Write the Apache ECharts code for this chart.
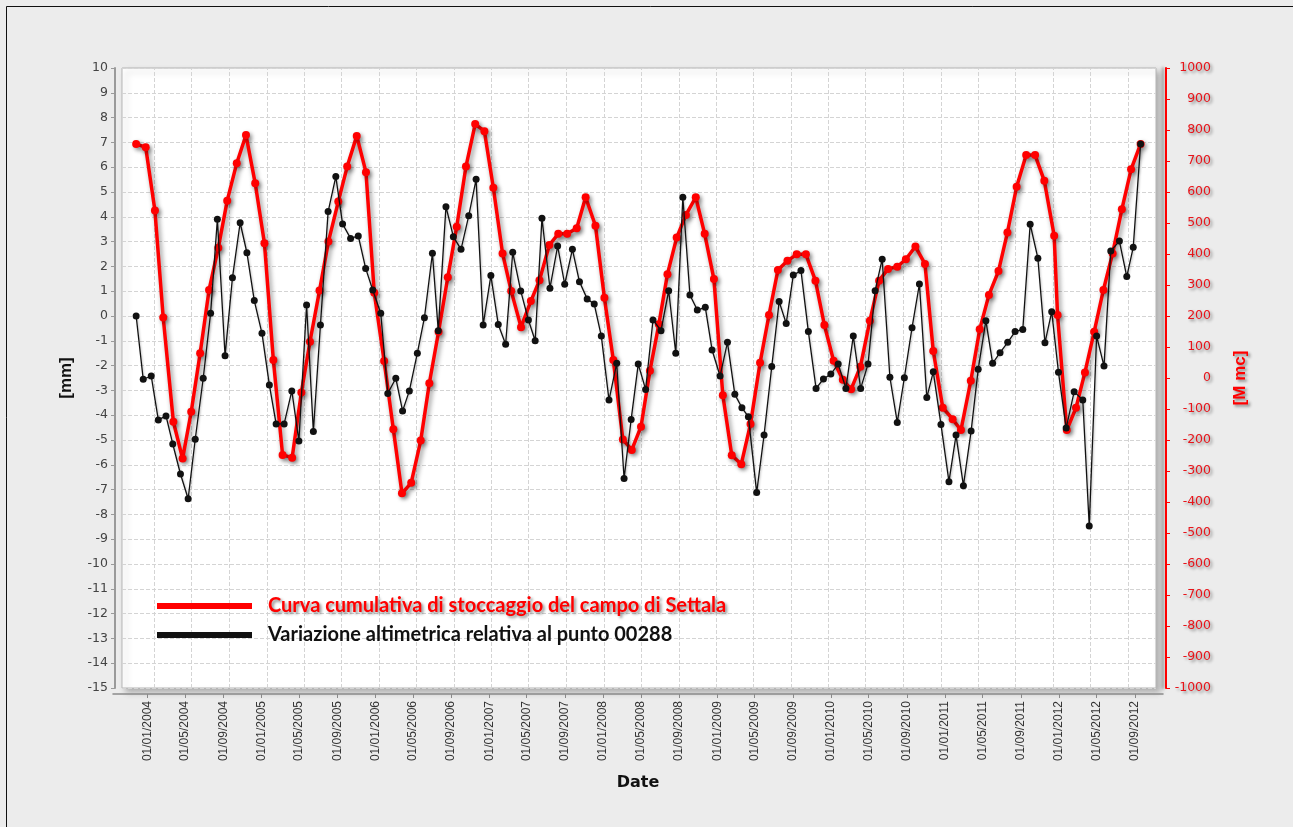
<!DOCTYPE html>
<html><head><meta charset="utf-8">
<script src="https://cdn.jsdelivr.net/npm/echarts@6/dist/echarts.min.js"></script>
<style>html,body{margin:0;padding:0;background:#ececec;}#c{width:1293px;height:827px;}</style>
</head><body><div id="c"></div>
<script>
// x values: days after 01/01/2004
const redName = 'Curva cumulativa di stoccaggio del campo di Settala';
const blackName = 'Variazione altimetrica relativa al punto 00288';

const redDays = [-59,-28,2,29,62,92,120,149,178,208,237,268,298,328,358,387,417,448,478,506,537,566,598,627,658,688,715,747,777,805,835,866,894,924,954,983,1013,1043,1073,1102,1132,1160,1192,1224,1252,1284,1313,1342,1373,1402,1434,1463,1492,1523,1552,1582,1611,1640,1668,1698,1728,1760,1789,1819,1848,1877,1908,1938,1969,1998,2027,2058,2088,2118,2149,2178,2208,2238,2265,2295,2326,2356,2385,2415,2443,2474,2505,2532,2563,2595,2622,2654,2683,2713,2744,2773,2803,2834,2863,2893,2925,2936,2966,2996,3025,3055,3085,3115,3145,3175,3206];
const redValues = [755,744,540,195,-141,-260,-109,80,284,420,572,693,784,628,435,58,-248,-257,-47,117,282,440,569,682,781,664,275,55,-165,-372,-338,-202,-17,149,325,488,682,819,796,614,402,281,164,248,315,429,465,465,483,583,491,259,58,-198,-232,-157,23,173,335,453,526,583,465,319,-56,-249,-278,-148,49,203,348,378,399,399,314,171,56,-6,-36,36,185,314,352,359,383,424,368,87,-96,-133,-168,-9,157,268,345,469,617,719,719,636,459,203,-168,-96,18,149,284,402,544,673,755];

const blackDays = [-59,-36,-10,13,38,60,85,110,133,159,183,205,230,254,279,301,325,350,374,396,422,447,470,495,517,540,565,590,612,638,663,687,710,736,759,785,807,829,855,878,904,923,948,972,997,1022,1046,1069,1094,1118,1142,1165,1191,1216,1238,1260,1286,1311,1334,1359,1382,1407,1430,1453,1478,1503,1527,1550,1573,1597,1621,1647,1672,1695,1718,1741,1765,1791,1813,1839,1863,1887,1910,1931,1958,1982,2007,2031,2054,2077,2102,2126,2151,2175,2199,2223,2248,2272,2296,2320,2343,2366,2391,2415,2438,2463,2487,2511,2532,2557,2583,2606,2630,2655,2678,2703,2725,2749,2774,2798,2823,2847,2872,2895,2917,2939,2964,2990,3018,3039,3063,3087,3109,3137,3161,3182,3206];
const blackValues = [0.0,-2.55,-2.42,-4.19,-4.03,-5.16,-6.37,-7.37,-4.97,-2.51,0.11,3.90,-1.60,1.54,3.76,2.55,0.62,-0.70,-2.78,-4.35,-4.35,-3.02,-5.04,0.44,-4.66,-0.36,4.21,5.62,3.71,3.13,3.23,1.92,1.05,0.11,-3.12,-2.51,-3.83,-3.02,-1.50,-0.07,2.53,-0.59,4.41,3.20,2.69,4.04,5.51,-0.36,1.63,-0.34,-1.14,2.57,1.01,-0.16,-1.0,3.94,1.12,2.82,1.28,2.69,1.38,0.69,0.48,-0.81,-3.39,-1.91,-6.55,-4.17,-1.94,-2.96,-0.16,-0.59,1.02,-1.50,4.79,0.85,0.24,0.35,-1.37,-2.42,-1.06,-3.16,-3.70,-4.06,-7.12,-4.80,-2.04,0.58,-0.30,1.65,1.83,-0.63,-2.92,-2.54,-2.34,-1.94,-2.92,-0.81,-2.92,-1.94,1.02,2.29,-2.47,-4.29,-2.49,-0.47,1.29,-3.29,-2.25,-4.37,-6.68,-4.80,-6.84,-4.64,-2.15,-0.19,-1.91,-1.48,-1.06,-0.63,-0.54,3.70,2.33,-1.08,0.17,-2.27,-4.52,-3.05,-3.39,-8.47,-0.81,-2.02,2.62,3.02,1.59,2.77,6.94];

const dateTickLabels = ['01/01/2004','01/05/2004','01/09/2004','01/01/2005','01/05/2005','01/09/2005','01/01/2006','01/05/2006','01/09/2006','01/01/2007','01/05/2007','01/09/2007','01/01/2008','01/05/2008','01/09/2008','01/01/2009','01/05/2009','01/09/2009','01/01/2010','01/05/2010','01/09/2010','01/01/2011','01/05/2011','01/09/2011','01/01/2012','01/05/2012','01/09/2012'];

function toDays(s){const p=s.split('/').map(Number);return Math.round((Date.UTC(p[2],p[1]-1,p[0])-Date.UTC(2004,0,1))/86400000);}
const tickDays = dateTickLabels.map(toDays);
const labelOf = {}; tickDays.forEach((d,i)=>{labelOf[d]=dateTickLabels[i];});

const redData = redDays.map((d,i)=>[d,redValues[i]]);
const blackData = blackDays.map((d,i)=>[d,blackValues[i]]);

const chart = echarts.init(document.getElementById('c'), null, {renderer:'canvas'});
const grey = '#d4d4d4';
const redShadow = {textShadowColor:'rgba(0,0,0,0.45)', textShadowBlur:3, textShadowOffsetX:2, textShadowOffsetY:2};
chart.setOption({
  animation:false,
  backgroundColor:'#ececec',
  graphic:[{type:'rect', shape:{x:6.5,y:6.5,width:1300,height:840}, style:{fill:'none', stroke:'#111', lineWidth:1}, silent:true}],
  grid:[
    {left:122, right:137, top:68, bottom:139, show:true, backgroundColor:'#ffffff', borderColor:'#b5b5b5', borderWidth:1,
     shadowColor:'rgba(0,0,0,0.25)', shadowBlur:6, shadowOffsetX:4, shadowOffsetY:4, containLabel:false, outerBoundsMode:'none'},
    {left:113, right:130, top:68, bottom:139, show:false, containLabel:false, outerBoundsMode:'none'}
  ],
  legend:{
    orient:'vertical', left:152, top:591, itemWidth:95, itemHeight:6, itemGap:9, icon:'rect', selectedMode:false, z:10,
    textStyle:{fontFamily:'Lato', fontWeight:'bold', fontSize:20, lineHeight:20, padding:[0,0,0,11]},
    data:[
      {name:redName, textStyle:Object.assign({color:'#ff0000'}, redShadow)},
      {name:blackName, textStyle:{color:'#111111'}}
    ]
  },
  xAxis:[
    {type:'value', gridIndex:0, min:-105, max:3256,
     axisLine:{show:false, onZero:false}, axisTick:{show:false}, axisLabel:{show:false},
     splitLine:{show:false}},
    {type:'value', gridIndex:1, min:-110, max:3256, position:'bottom', offset:6,
     axisLine:{show:true, onZero:false, lineStyle:{color:'#8a8a8a', width:1.5}},
     axisTick:{show:true, customValues:tickDays, length:4, lineStyle:{color:'#8a8a8a'}},
     axisLabel:{show:true, customValues:tickDays, rotate:90, margin:7, fontSize:12, color:'#333', fontFamily:'Liberation Sans',
       formatter:function(v){return labelOf[Math.round(v)]||'';}},
     splitLine:{show:false},
     name:'Date', nameLocation:'middle', nameGap:81, nameMoveOverlap:false,
     nameTextStyle:{fontWeight:'bold', fontSize:16, color:'#111', fontFamily:'DejaVu Sans'}}
  ],
  yAxis:[
    {type:'value', gridIndex:0, position:'left', min:-15, max:10, interval:1, offset:7,
     axisLine:{show:true, onZero:false, lineStyle:{color:'#9a9a9a', width:2}},
     axisTick:{show:true, length:4, lineStyle:{color:'#9a9a9a'}},
     axisLabel:{fontSize:12.5, color:'#444', margin:7, fontFamily:'DejaVu Sans'},
     splitLine:{show:true, lineStyle:{type:'dashed', color:grey, width:1}},
     name:'[mm]', nameLocation:'middle', nameGap:40, nameMoveOverlap:false,
     nameTextStyle:{fontWeight:'bold', fontSize:17, color:'#111', fontFamily:'Liberation Sans'}},
    {type:'value', gridIndex:0, position:'right', min:-1000, max:1000, interval:100, offset:10,
     axisLine:{show:true, onZero:false, lineStyle:{color:'#ff0000', width:2, shadowColor:'rgba(0,0,0,0.35)', shadowBlur:3, shadowOffsetX:-3}},
     axisTick:{show:true, length:4, lineStyle:{color:'#ff0000'}},
     axisLabel:Object.assign({fontSize:12.5, color:'#e8141a', margin:45, align:'right', fontFamily:'DejaVu Sans',
       formatter:function(v){return String(v);}}, redShadow),
     splitLine:{show:false},
     name:'[M mc]', nameLocation:'middle', nameGap:66, nameMoveOverlap:false,
     nameTextStyle:Object.assign({fontWeight:'bold', fontSize:17, color:'#ff0000', fontFamily:'Liberation Sans'}, redShadow)},
    {type:'value', gridIndex:1, show:false, min:0, max:1}
  ],
  series:[
    {name:'grid-x', type:'line', xAxisIndex:0, yAxisIndex:0, data:[], z:1, silent:true,
     markLine:{silent:true, z:1, symbol:['none','none'], label:{show:false},
       lineStyle:{type:'dashed', color:grey, width:1},
       emphasis:{disabled:true},
       data:tickDays.map(d=>({xAxis:d}))}},
    {name:redName, type:'line', xAxisIndex:0, yAxisIndex:1, data:redData, z:2,
     symbol:'circle', symbolSize:8,
     lineStyle:{color:'#ff0000', width:3.5, shadowColor:'rgba(0,0,0,0.45)', shadowBlur:5, shadowOffsetX:2, shadowOffsetY:3},
     itemStyle:{color:'#ff0000', shadowColor:'rgba(0,0,0,0.4)', shadowBlur:4, shadowOffsetX:2, shadowOffsetY:2}},
    {name:blackName, type:'line', xAxisIndex:0, yAxisIndex:0, data:blackData, z:3,
     symbol:'circle', symbolSize:7,
     lineStyle:{color:'#111', width:1.3, shadowColor:'rgba(0,0,0,0.25)', shadowBlur:2, shadowOffsetX:1, shadowOffsetY:1},
     itemStyle:{color:'#111'}}
  ]
});
</script></body></html>
